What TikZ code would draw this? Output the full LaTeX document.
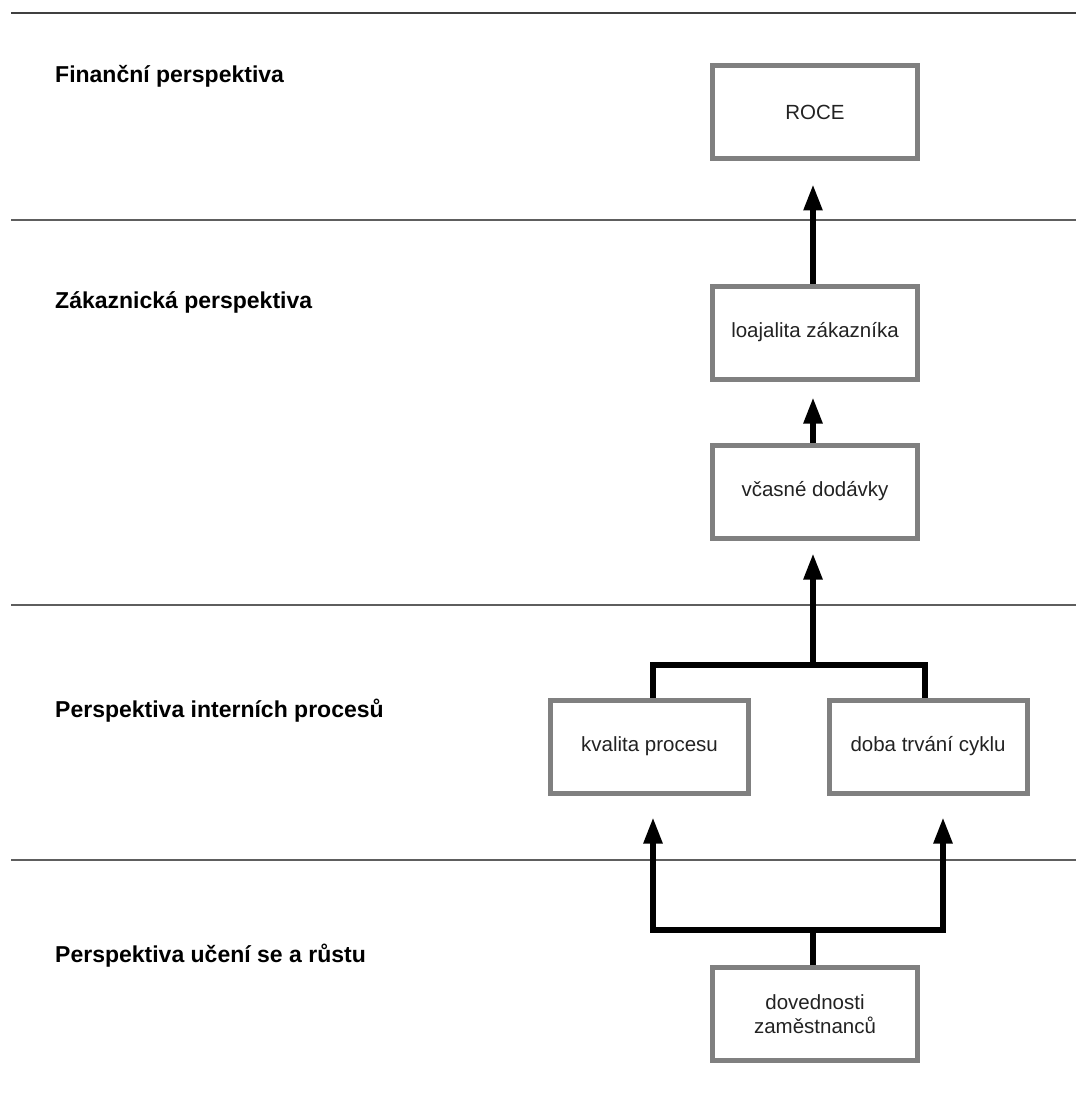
\documentclass[tikz,border=0pt]{standalone}
\usepackage{fontspec}
\setmainfont{Liberation Sans}
\usetikzlibrary{arrows.meta}

\definecolor{boxgray}{HTML}{808080}
\definecolor{rulegray}{HTML}{5E5E5E}
\definecolor{textgray}{HTML}{222222}

\begin{document}
\begin{tikzpicture}[
  x=1pt, y=-1pt,
  every node/.style={inner sep=0pt},
  persp/.style={anchor=base west, font=\fontsize{23}{27}\selectfont\bfseries, text=black},
  measure/.style={draw=boxgray, line width=5pt, minimum width=205pt, minimum height=93pt,
    align=center, text=textgray, font=\fontsize{20.5}{23.5}\selectfont},
  narrow/.style={measure, minimum width=198pt},
  sep/.style={draw=rulegray, line width=1.6pt},
  conn/.style={draw=black, line width=5.5pt, miter limit=10},
  arr/.style={conn, -{Triangle[length=26pt, width=18pt]}}
]
\useasboundingbox (0,0) rectangle (1076,1115);

% perspective separators
\draw[sep, draw=black!75] (11,13) -- (1076,13);
\draw[sep] (11,220) -- (1076,220);
\draw[sep] (11,605) -- (1076,605);
\draw[sep] (11,860) -- (1076,860);

% perspective titles
\node[persp] (fin)  at (55,83)  {Finanční perspektiva};
\node[persp] (zak)  at (55,308) {Zákaznická perspektiva};
\node[persp] (proc) at (55,717) {Perspektiva interních procesů};
\node[persp] (uc)   at (55,962) {Perspektiva učení se a růstu};

% measures
\node[measure] (roce) at (815,112.5) {ROCE};
\node[measure] (loaj) at (815,332.5) {loajalita zákazníka};
\node[measure] (vcas) at (815,491.5) {včasné dodávky};
\node[narrow]  (kval) at (649.5,746.5) {kvalita procesu};
\node[narrow]  (doba) at (928,746.5) {doba trvání cyklu};
\node[measure] (dov)  at (815,1014) {dovednosti\\zaměstnanců};

% junction points
\coordinate (fork)  at (813,665);
\coordinate (split) at (813,930);

% cause-and-effect links
\draw[arr, shorten >=23pt] (loaj.north -| 813,0) -- (roce.south -| 813,0);
\draw[arr, shorten >=16pt] (vcas.north -| 813,0) -- (loaj.south -| 813,0);
\draw[conn] ([xshift=3.5pt]kval.north) |- (fork) -| ([xshift=-3pt]doba.north);
\draw[arr, shorten >=13pt] (fork) -- (vcas.south -| fork);
\draw[conn] (dov.north -| split) -- (split);
\draw[arr, shorten >=22pt] (split) -| ([xshift=3.5pt]kval.south);
\draw[arr, shorten >=22pt] (split) -| ([xshift=15pt]doba.south);
\end{tikzpicture}
\end{document}
